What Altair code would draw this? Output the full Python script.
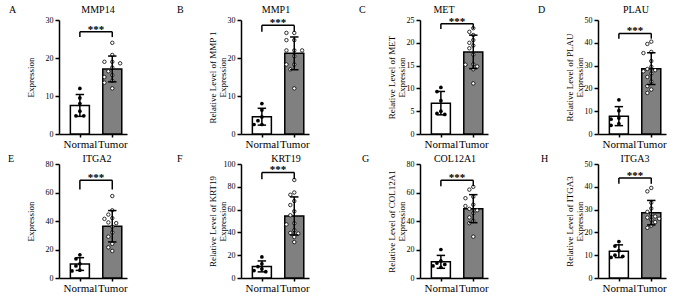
import altair as alt
import pandas as pd

FONT = "Liberation Serif"

letters = ["A", "B", "C", "D", "E", "F", "G", "H"]
genes = ["MMP14", "MMP1", "MET", "PLAU", "ITGA2", "KRT19", "COL12A1", "ITGA3"]
y_titles = [
    "Expression",
    ["Relative Level of MMP 1", "Expression"],
    ["Relative Level of MET", "Expression"],
    ["Relative Level of PLAU", "Expression"],
    "Expression",
    ["Relative Level of KRT19", "Expression"],
    ["Relative Level of COL12A1", "Expression"],
    ["Relative Level of ITGA3", "Expression"],
]
y_max = [30, 30, 25, 50, 80, 100, 80, 50]
y_step = [10, 10, 5, 10, 20, 20, 20, 10]

normal_vals = [
    [12.0, 9.5, 8.0, 6.0, 4.8, 4.8],
    [8.0, 6.3, 4.5, 3.5, 2.5, 2.5],
    [10.2, 9.3, 7.3, 5.0, 4.5, 4.3],
    [15.0, 10.2, 7.0, 6.5, 4.5, 3.8],
    [16.3, 13.5, 10.0, 8.5, 5.5, 5.0],
    [18.5, 12.5, 10.0, 8.0, 6.5, 5.5],
    [20.0, 12.0, 10.5, 9.5, 8.5, 7.5],
    [16.0, 14.0, 12.0, 10.0, 9.5, 9.0],
]
tumor_vals = [
    [24.0, 20.8, 19.0, 19.0, 18.6, 17.5, 16.5, 15.5, 15.0, 14.0, 13.5, 12.0],
    [26.6, 26.6, 24.7, 24.7, 22.0, 22.0, 22.0, 20.5, 18.3, 18.3, 17.0, 12.0],
    [23.2, 22.4, 21.7, 20.6, 20.0, 19.4, 18.8, 17.4, 15.3, 15.2, 14.8, 14.2, 11.1],
    [40.5, 39.5, 36.0, 35.5, 32.0, 29.5, 28.5, 28.0, 27.5, 26.5, 25.0, 23.0, 21.0, 19.5, 18.0],
    [57.5, 47.5, 44.5, 42.0, 41.5, 39.0, 38.5, 36.0, 32.0, 29.0, 24.0, 21.5, 19.0],
    [86.0, 75.0, 73.0, 67.5, 64.0, 58.5, 55.0, 48.0, 47.0, 42.0, 39.5, 39.0, 36.0, 31.5],
    [64.0, 62.0, 57.0, 56.0, 51.5, 50.5, 48.5, 47.5, 45.5, 42.5, 40.0, 38.5, 29.0],
    [39.5, 38.0, 33.0, 30.5, 29.0, 28.0, 27.0, 26.5, 26.0, 25.5, 24.5, 23.0, 22.0],
]
bracket_top = [26.9, 28.6, 24.2, 44.1, 68.6, 92.6, 68.6, 43.9]
bracket_leg = [25.5, 26.9, 23.0, 41.8, 62.1, 86.7, 64.4, 41.3]
groups = ["Normal", "Tumor"]
tick_labels = {0: "Normal", 1: "Tumor"}

# layout constants (pixels)
W, H = 68, 114
PX_PER_X = 38.0
letter_dx = [50, 64, 61, 60, 51, 64, 58, 57]
title_dx = [5, 1, -10, 4, 4, 11, 1, 3]
head_y = [-7, -7, -7, -7, -2, -2, -2, -2]


def jitter(values, ymax, d=5.0, step=4.6):
    ppu = H / ymax
    placed = []
    res = [0.0] * len(values)
    order = sorted(range(len(values)), key=lambda k: -values[k])
    for k in order:
        yk = values[k] * ppu
        xp = 0.0
        for cand in [0, -1, 1, -2, 2, -3, 3]:
            xp = cand * step
            if all((xp - xq) ** 2 + (yk - yq) ** 2 >= d * d for xq, yq in placed):
                break
        placed.append((xp, yk))
        res[k] = xp / PX_PER_X
    return res


def panel(i):
    rows = []
    for gi, (g, vals) in enumerate(zip(groups, [normal_vals[i], tumor_vals[i]])):
        jit = jitter(vals, y_max[i])
        for v, j in zip(vals, jit):
            rows.append({"group": g, "pos": gi, "xj": gi + j, "value": v})
    df = pd.DataFrame(rows)

    xscale = alt.Scale(domain=[-0.49, 1.3], nice=False, zero=False)
    yscale = alt.Scale(domain=[0, y_max[i]], nice=False)
    xaxis = alt.Axis(
        values=[0, 1],
        labelExpr="datum.value == 0 ? '%s' : '%s'" % (tick_labels[0], tick_labels[1]),
        title=None, grid=False, tickSize=3, tickWidth=1.5, tickColor="black",
        domainWidth=1.5, domainColor="black", labelFont=FONT, labelFontSize=11,
        labelColor="black", labelPadding=1, labelAngle=0, labelOverlap=False,
        labelFlush=False, labelAlign="center",
    )
    yaxis = alt.Axis(
        values=list(range(0, y_max[i] + 1, y_step[i])), title=y_titles[i],
        grid=False, tickSize=4, tickWidth=1.5, tickColor="black",
        domainWidth=1.5, domainColor="black", labelFont=FONT, labelFontSize=8,
        labelColor="black", labelPadding=2, labelOverlap=False, labelFlush=False,
        titleFont=FONT, titleFontSize=9,
        titleFontWeight="normal", titleColor="black", titleX=-24, titleY=H / 2,
        titleLineHeight=10,
    )

    def X(f):
        return alt.X(f, scale=xscale, axis=xaxis)

    def Y(f):
        return alt.Y(f, scale=yscale, axis=yaxis)

    base = alt.Chart(df)
    bars = base.mark_bar(width=19, stroke="black", strokeWidth=1.5).encode(
        x=X("pos:Q"),
        y=Y("mean(value):Q"),
        fill=alt.Fill("group:N", scale=alt.Scale(domain=groups, range=["white", "#808080"]), legend=None),
    )
    stats = base.transform_aggregate(
        m="mean(value)", s="stdev(value)", groupby=["pos"]
    ).transform_calculate(
        lo="datum.m - datum.s", hi="datum.m + datum.s",
        xl="datum.pos - 0.13", xr="datum.pos + 0.13",
    )
    err_v = stats.mark_rule(color="black", strokeWidth=1.5).encode(
        x=X("pos:Q"), y=Y("lo:Q"), y2="hi:Q"
    )
    cap_hi = stats.mark_rule(color="black", strokeWidth=1.5).encode(
        x=X("xl:Q"), x2="xr:Q", y=Y("hi:Q")
    )
    cap_lo = stats.mark_rule(color="black", strokeWidth=1.5).encode(
        x=X("xl:Q"), x2="xr:Q", y=Y("lo:Q")
    )
    pts_n = base.transform_filter("datum.group == 'Normal'").mark_point(
        shape="circle", filled=True, color="black", size=14, opacity=1
    ).encode(x=X("xj:Q"), y=Y("value:Q"))
    pts_t = base.transform_filter("datum.group == 'Tumor'").mark_point(
        shape="circle", filled=True, fill="white", stroke="black", strokeWidth=0.8,
        size=12, opacity=1,
    ).encode(x=X("xj:Q"), y=Y("value:Q"))

    bdf = pd.DataFrame({"x0": [0], "x1": [1], "xm": [0.5],
                        "top": [bracket_top[i]], "leg": [bracket_leg[i]]})
    bbase = alt.Chart(bdf)
    br_h = bbase.mark_rule(color="black", strokeWidth=1.5).encode(
        x=X("x0:Q"), x2="x1:Q", y=Y("top:Q")
    )
    br_l = bbase.mark_rule(color="black", strokeWidth=1.5).encode(
        x=X("x0:Q"), y=Y("leg:Q"), y2="top:Q"
    )
    br_r = bbase.mark_rule(color="black", strokeWidth=1.5).encode(
        x=X("x1:Q"), y=Y("leg:Q"), y2="top:Q"
    )
    stars = bbase.mark_text(
        text="***", font=FONT, fontSize=11, fontWeight="bold", color="black",
        baseline="alphabetic", align="center", dy=1,
    ).encode(x=X("xm:Q"), y=Y("top:Q"))
    heads = pd.DataFrame({"letter": [letters[i]], "gene": [genes[i]]})
    letter = alt.Chart(heads).mark_text(
        font=FONT, fontSize=10, color="black", align="left", baseline="alphabetic"
    ).encode(text="letter:N", x=alt.value(-letter_dx[i]), y=alt.value(head_y[i]))
    gene_t = alt.Chart(heads).mark_text(
        font=FONT, fontSize=10, color="black", align="center", baseline="alphabetic"
    ).encode(text="gene:N", x=alt.value(W / 2 + title_dx[i]), y=alt.value(head_y[i]))

    return alt.layer(
        bars, pts_n, pts_t, err_v, cap_hi, cap_lo, br_h, br_l, br_r, stars,
        letter, gene_t,
    ).properties(width=W, height=H)


chart = alt.concat(
    *[panel(i) for i in range(8)], columns=4, spacing={"row": 5, "column": 49}
).properties(
    padding={"left": 8, "top": 5, "right": 5, "bottom": 5},
    background="white",
).configure_view(stroke=None).configure_axis(labelOverlap=False, labelFlush=False)

chart.save("out.html", embed_options={"renderer": "svg", "actions": False})
